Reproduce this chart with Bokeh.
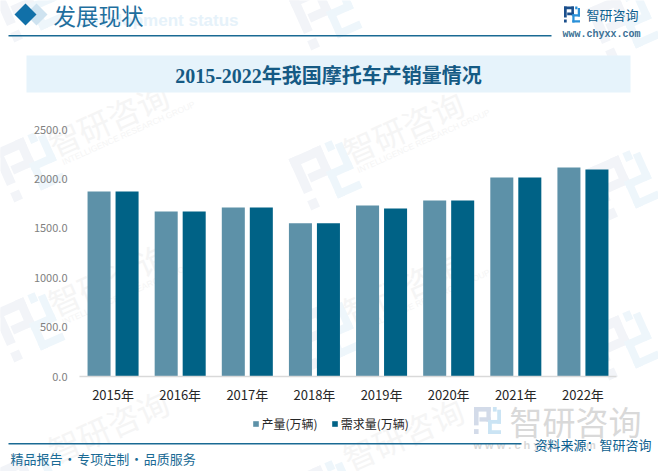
import math
from bokeh.plotting import figure
from bokeh.models import (ColumnDataSource, Range1d, Label, PolyAnnotation,
                          Legend, LegendItem, NumeralTickFormatter, FixedTicker)
from bokeh.transform import dodge
from bokeh.embed import file_html
from bokeh.resources import INLINE

years = ["2015年", "2016年", "2017年", "2018年", "2019年", "2020年", "2021年", "2022年"]
production = [1872, 1670, 1710, 1550, 1731, 1781, 2014, 2115]
demand = [1872, 1670, 1710, 1550, 1700, 1781, 2014, 2095]
series_names = ["产量(万辆)", "需求量(万辆)"]
y_ticks = [0, 500, 1000, 1500, 2000, 2500]

W, H = 658, 471
CJK = "Noto Sans CJK SC"
BLUE = "#1a6a94"
C1, C2 = "#5d91a8", "#006286"

# the frame fills the canvas; these ranges put the axes where the reference has them
PLOT_L, PLOT_R, PLOT_B, PLOT_T = 79.0, 616.0, 376.0, 129.0
per_cat = (PLOT_R - PLOT_L) / len(years)
per_val = (PLOT_B - PLOT_T) / y_ticks[-1]
xr = Range1d(-PLOT_L / per_cat - .5, (W - PLOT_L) / per_cat - .5)
yr = Range1d(-(H - PLOT_B) / per_val, PLOT_B / per_val)

idx = list(range(len(years)))
source = ColumnDataSource(dict(idx=idx, production=production, demand=demand))
p = figure(width=W, height=H, output_backend="svg", toolbar_location=None, x_range=xr, y_range=yr, min_border=0)
p.outline_line_color = None
p.background_fill_color = "white"
p.border_fill_color = "white"
p.grid.visible = False

r1 = p.vbar(x=dodge("idx", -0.2086), top="production", width=0.343, source=source, fill_color=C1, line_color=None)
r2 = p.vbar(x=dodge("idx", 0.2086), top="demand", width=0.343, source=source, fill_color=C2, line_color=None)

yax = p.yaxis[0]
yax.fixed_location = -0.5
yax.bounds = (0, y_ticks[-1])
yax.ticker = FixedTicker(ticks=y_ticks)
yax.formatter = NumeralTickFormatter(format="0.0")
yax.axis_line_color = None
yax.major_tick_line_color = None
yax.minor_tick_line_color = None
yax.major_label_text_font = CJK
yax.major_label_text_font_size = "11px"
yax.major_label_text_color = "#7f7f7f"
yax.major_label_standoff = 6

xax = p.xaxis[0]
xax.fixed_location = 0
xax.bounds = (-0.5, len(years) - 0.5)
xax.ticker = FixedTicker(ticks=idx)
xax.major_label_overrides = dict(zip(idx, years))
xax.axis_line_color = "#d9d9d9"
xax.axis_line_width = 1.5
xax.major_tick_line_color = None
xax.minor_tick_line_color = None
xax.major_label_text_font = CJK
xax.major_label_text_font_size = "13px"
xax.major_label_text_color = "#262626"
xax.major_label_standoff = 2

legend = Legend(items=[LegendItem(label=series_names[0], renderers=[r1]),
                       LegendItem(label=series_names[1], renderers=[r2])],
                orientation="horizontal", location=(251.5, H - 432), glyph_width=7, glyph_height=7,
                label_text_font=CJK, label_text_font_size="12px", label_text_color="#262626",
                border_line_color=None, background_fill_color=None, spacing=13,
                label_standoff=3, margin=0, padding=0)
p.add_layout(legend)

def sy(y): return H - y

def text(s, x, y, size, color, font=CJK, style="normal", align="left", base="middle", angle=0, level="annotation"):
    p.add_layout(Label(x=x, y=sy(y), x_units="screen", y_units="screen", text=s, text_font=font,
                       text_font_size=f"{size}px", text_color=color, text_font_style=style,
                       text_align=align, text_baseline=base, angle=angle, angle_units="deg", level=level))

def poly(pts, color, level="underlay"):
    p.add_layout(PolyAnnotation(xs=[a for a, _ in pts], ys=[sy(b) for _, b in pts],
                                xs_units="screen", ys_units="screen", fill_color=color, fill_alpha=1,
                                line_color=None, level=level))

LEFT = [(0, 0, .62, .17), (.46, 0, .62, .54), (.2, .38, .62, .54), (0, 0, .17, .68), (0, .82, .17, 1)]
RIGHT = [(.7, 0, .84, .17), (.86, .1, 1, .62), (.52, .48, 1, .62), (.52, .48, .66, 1), (.52, .86, 1, 1)]

def logo(cx, cy, size, cl, cr, rot=0, level="underlay"):
    t = math.radians(rot)
    def tf(u, v):
        dx, dy = (u - .5) * size, (v - .5) * size
        return (cx + dx * math.cos(t) + dy * math.sin(t), cy - dx * math.sin(t) + dy * math.cos(t))
    for group, col in ((LEFT, cl), (RIGHT, cr)):
        for a, b, c, d in group:
            poly([tf(a, b), tf(c, b), tf(c, d), tf(a, d)], col, level)

# repeated watermark
for zx, zy, lx, ly in [(65, 137, 28, 165), (65, 297, 28, 325), (65, 457, 28, 485),
                       (360, 145, 325, 173), (360, 305, 325, 333), (360, 465, 325, 493),
                       (655, 160, 623, 183), (655, 320, 623, 343),
                       (65, -23, 28, 5), (360, -15, 325, 13), (655, 0, 623, 23)]:
    logo(lx, ly, 56, "#f2f4f8", "#eef6fb", rot=24)
    if 0 < zy < 440 and zx < 600:
        text("智研咨询", zx - 16, zy + 7, 32, "#f5f5f5", angle=24, level="underlay")
        text("INTELLIGENCE RESEARCH GROUP", zx - 3, zy + 25, 8.5, "#f5f5f5", font="Liberation Sans", angle=24, level="underlay")
    elif 0 < zy and zx < 600:
        text("智研咨询", zx - 16, zy - 6, 32, "#f5f5f5", angle=24, level="underlay")

# header
text("Development status", 238, 20, 17, "#e6f2fa", font="Liberation Sans", style="bold", align="right", level="underlay")
poly([(36, 3), (47, 14), (36, 25), (25, 14)], "#cfe3f0")
poly([(25, 3), (36, 14), (25, 25), (14, 14)], "#1170a8")
text("发展现状", 53, 14, 22.5, "#1f6f9e")
poly([(8, 34.5), (551, 34.5), (551, 36), (8, 36)], BLUE)

# top-right logo
logo(571.5, 14, 16, "#1b4f8c", "#2a90d8")
text("智研咨询", 586, 14, 13, "#0d5f8f")
text("www.chyxx.com", 601, 34, 10, "#3a6f94", font="Liberation Mono", style="bold", align="center")

# title band
poly([(26, 55), (630, 55), (630, 92), (26, 92)], "#e6f3fb")
text("2015-2022年我国摩托车产销量情况", 328, 75, 20, "#155a84", font="Liberation Serif, " + CJK, style="bold", align="center")

# footer
logo(487, 420, 27, "#d3dbe9", "#cbe4f4", level="annotation")
text("智研咨询", 509, 420, 33, "#d9d9d9")
text("w w w . c h y x x . c o m", 473, 444, 11, "#d9d9d9", font="Liberation Sans", style="bold")
poly([(8, 442.5), (521, 442.5), (521, 444), (8, 444)], BLUE, level="annotation")
text("精品报告\u200a·\u200a专项定制\u200a·\u200a品质服务", 10, 458, 13, BLUE)
text("资料来源：智研咨询", 534, 444, 13, "#0d5f8f")

open("out.html", "w").write(file_html(p, INLINE))
